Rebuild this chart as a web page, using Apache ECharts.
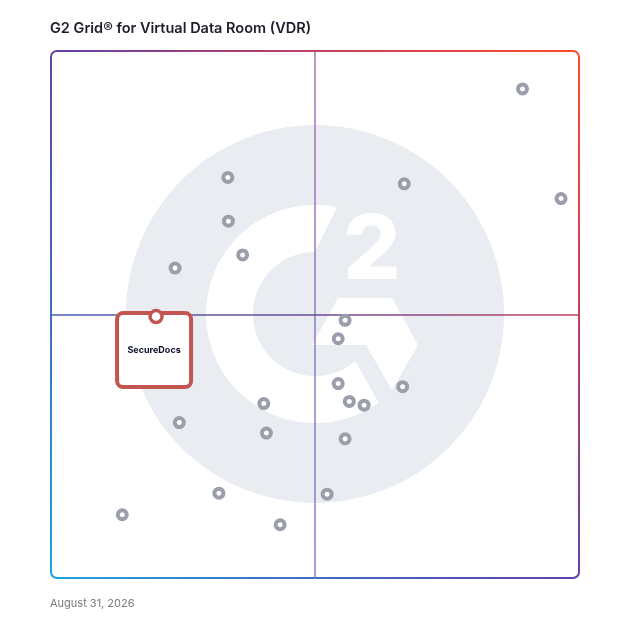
<!DOCTYPE html>
<html>
<head>
<meta charset="utf-8">
<script src="https://cdn.jsdelivr.net/npm/echarts@6/dist/echarts.min.js"></script>
<style>
html,body{margin:0;padding:0;background:#fff;}
#chart{width:628px;height:628px;}
</style>
</head>
<body>
<div id="chart"></div>
<script>
// ---- data (x: 0-100 satisfaction, y: 0-100 market presence) ----
const titleText = 'G2 Grid® for Virtual Data Room (VDR)';
const dateText = 'August 31, 2026';
const otherX = [89.3, 66.9, 96.6, 33.5, 33.6, 36.3, 23.5, 55.7, 54.4, 54.4, 66.6, 56.5, 59.3, 40.3, 24.3, 40.8, 55.7, 31.8, 52.3, 13.5, 43.4];
const otherY = [92.8, 74.8, 72.0, 76.0, 67.7, 61.3, 58.8, 48.9, 45.4, 36.9, 36.3, 33.5, 32.8, 33.1, 29.5, 27.5, 26.4, 16.1, 15.9, 12.0, 10.1];
const highlightName = 'SecureDocs';
const highlightX = [19.9];
const highlightY = [49.6];
const midValue = 50;

const chart = echarts.init(document.getElementById('chart'));

const otherData = otherX.map((x, i) => [x, otherY[i]]);
const hlData = highlightX.map((x, i) => ({ name: highlightName, value: [x, highlightY[i]] }));

// G2 logo "C" ring (decorative)
const cx = 315, cy = 314, R = 109, r = 62;
const cPts = [];
for (let a = 54.3; a <= 281.6; a += 1.5) {
  const t = a * Math.PI / 180; cPts.push([cx + R * Math.cos(t), cy + R * Math.sin(t)]);
}
{ const t = 281.6 * Math.PI / 180; cPts.push([cx + R * Math.cos(t), cy + R * Math.sin(t)]); }
for (let a = 270; a >= 49.4; a -= 1.5) {
  const t = a * Math.PI / 180; cPts.push([cx + r * Math.cos(t), cy + r * Math.sin(t)]);
}
{ const t = 49.4 * Math.PI / 180; cPts.push([cx + r * Math.cos(t), cy + r * Math.sin(t)]); }

const G = echarts.graphic;
const borderGrad = new G.LinearGradient(51, 578, 579, 51, [
  { offset: 0, color: '#1ea5dd' },
  { offset: 0.25, color: '#3f6cc0' },
  { offset: 0.5, color: '#6142a8' },
  { offset: 0.75, color: '#c23f5e' },
  { offset: 1, color: '#ff4b2b' }
], true);

chart.setOption({
  animation: false,
  title: {
    text: titleText, left: 50, top: 21, padding: 0,
    textStyle: { fontFamily: 'Inter', fontSize: 14.5, fontWeight: 600, color: '#1d1e2c' }
  },
  grid: { left: 51, right: 49, top: 51, bottom: 50 },
  xAxis: { type: 'value', min: 0, max: 100, show: false },
  yAxis: { type: 'value', min: 0, max: 100, show: false },
  graphic: { elements: [
    { type: 'circle', z: -20, silent: true, shape: { cx: 315, cy: 314, r: 189 }, style: { fill: '#e9ecf0' } },
    { type: 'polygon', z: -19, silent: true, shape: { points: cPts }, style: { fill: '#ffffff' } },
    { type: 'polygon', z: -19, silent: true, shape: { points: [[338,298],[392,298],[418,345],[392,390],[366,345],[312,345]] }, style: { fill: '#ffffff' } },
    { type: 'text', z: -19, silent: true, x: 372, y: 252, style: { text: '2', fill: '#ffffff', font: '800 90px Inter', textAlign: 'center', textVerticalAlign: 'middle' } },
    { type: 'rect', z: -5, silent: true, shape: { x: 51, y: 51, width: 528, height: 527, r: 6 }, style: { fill: 'none', stroke: borderGrad, lineWidth: 2 } },
    { type: 'text', z: 1, left: 50, top: 598, style: { text: dateText, fill: '#7a7a7a', font: '11px Inter' } }
  ]},
  series: [
    {
      type: 'scatter', z: 2, data: otherData, symbol: 'circle', symbolSize: 9,
      itemStyle: { color: '#ffffff', borderColor: '#9b9fab', borderWidth: 4, opacity: 1 },
      emphasis: { disabled: true },
      markLine: {
        silent: true, symbol: 'none', label: { show: false }, z: 1,
        emphasis: { disabled: true },
        data: [
          { xAxis: midValue, lineStyle: { width: 1.5, type: 'solid', opacity: 1, color: new G.LinearGradient(0, 0, 0, 1, [{ offset: 0, color: '#a873ad' }, { offset: 1, color: '#8580cc' }]) } },
          { yAxis: midValue, lineStyle: { width: 1.5, type: 'solid', opacity: 1, color: new G.LinearGradient(0, 0, 1, 0, [{ offset: 0, color: '#4b5fb5' }, { offset: 0.5, color: '#6a4a9a' }, { offset: 1, color: '#c4405a' }]) } }
        ]
      }
    },
    {
      type: 'scatter', z: 3, data: hlData, symbol: 'circle', symbolSize: 12,
      itemStyle: { color: '#ffffff', borderWidth: 0, opacity: 1 },
      emphasis: { disabled: true },
      label: {
        show: true, position: 'bottom', distance: -7.5, offset: [-2, 0], opacity: 1,
        formatter: '{box|{b}}',
        rich: {
          box: {
            width: 70, height: 70, lineHeight: 70, align: 'center', verticalAlign: 'middle',
            backgroundColor: '#ffffff', borderColor: '#c25550', borderWidth: 4, borderRadius: 4,
            fontFamily: 'Inter', fontSize: 9, fontWeight: 700, color: '#0b0e2a', opacity: 1
          }
        }
      }
    },
    {
      type: 'scatter', z: 4, data: hlData, symbol: 'circle', symbolSize: 12,
      emphasis: { disabled: true },
      itemStyle: { color: '#ffffff', borderColor: '#c25550', borderWidth: 3.5, opacity: 1 }
    }
  ]
});
</script>
</body>
</html>
